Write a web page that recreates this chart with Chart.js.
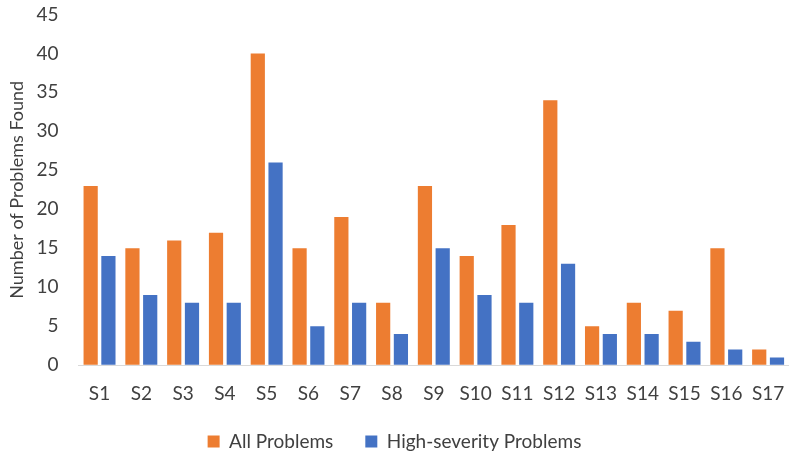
<!DOCTYPE html>
<html>
<head>
<meta charset="utf-8">
<script src="https://cdn.jsdelivr.net/npm/chart.js@4"></script>
<style>
  html, body { margin: 0; padding: 0; background: #fff; }
  #wrap { width: 789px; height: 461px; }
</style>
</head>
<body>
<div id="wrap"><canvas id="chart"></canvas></div>
<script>
// Datos
const categories = ['S1','S2','S3','S4','S5','S6','S7','S8','S9','S10','S11','S12','S13','S14','S15','S16','S17'];
const allProblems = [23, 15, 16, 17, 40, 15, 19, 8, 23, 14, 18, 34, 5, 8, 7, 15, 2];
const highSeverity = [14, 9, 8, 8, 26, 5, 8, 4, 15, 9, 8, 13, 4, 4, 3, 2, 1];
const yTicks = [0, 5, 10, 15, 20, 25, 30, 35, 40, 45];

const textColor = '#404040';
const font = { family: 'Lato', size: 19 };
const titleFont = { family: 'Lato', size: 18 };
const legendFont = { family: 'Lato', size: 19 };

const ctx = document.getElementById('chart').getContext('2d');
new Chart(ctx, {
  type: 'bar',
  data: {
    labels: categories,
    datasets: [
      { label: 'All Problems', data: allProblems, backgroundColor: '#ED7D31' },
      { label: 'High-severity Problems', data: highSeverity, backgroundColor: '#4472C4' }
    ]
  },
  options: {
    responsive: true,
    maintainAspectRatio: false,
    animation: false,
    layout: { padding: { top: 0, right: 0, left: 0, bottom: 0 } },
    datasets: { bar: { categoryPercentage: 0.85, barPercentage: 0.8 } },
    plugins: {
      legend: {
        position: 'bottom',
        labels: { color: textColor, font: legendFont, boxWidth: 12, boxHeight: 12, padding: 32 }
      },
      tooltip: { enabled: false }
    },
    scales: {
      x: {
        grid: { display: true, drawOnChartArea: false, drawTicks: true, tickLength: 14, tickColor: 'rgba(0,0,0,0)' },
        border: { display: true, color: '#d9d9d9', width: 1 },
        ticks: { color: textColor, font: font, padding: 3 },
        // compensar el padding grande de la leyenda
        afterFit: (scale) => { scale.height -= 8; }
      },
      y: {
        min: 0,
        max: 45,
        afterBuildTicks: (axis) => { axis.ticks = yTicks.map(v => ({ value: v })); },
        grid: { display: true, drawOnChartArea: false, drawTicks: true, tickLength: 17, tickColor: 'rgba(0,0,0,0)' },
        border: { display: false },
        ticks: { color: textColor, font: font, padding: 3 },
        title: { display: true, text: 'Number of Problems Found', color: textColor, font: titleFont, padding: 6 }
      }
    }
  }
});
</script>
</body>
</html>
